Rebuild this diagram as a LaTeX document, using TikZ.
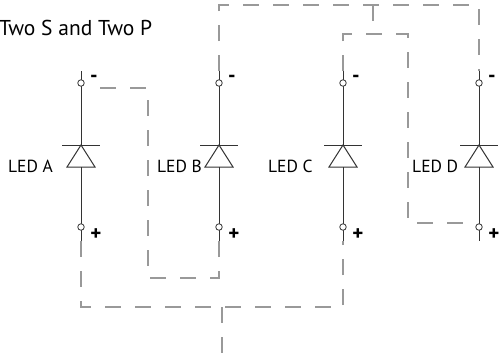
\documentclass[tikz,border=0pt]{standalone}
\usepackage{fontspec}
\setmainfont{PT Sans}
\usepackage{color}
\usepackage{tikz}

\begin{document}
\begin{tikzpicture}[x=1pt,y=-1pt,
  wire/.style={draw=black!80,line width=1pt},
  link/.style={draw=black!40,line width=1.4pt,dash pattern=on 16pt off 14pt},
  term/.style={circle,draw=black!80,fill=white,line width=0.8pt,inner sep=0pt,minimum size=6.5pt},
  sign/.style={inner sep=0pt,anchor=base,font=\fontsize{21}{24}\selectfont\bfseries},
  lbl/.style={inner sep=0pt,anchor=base west,font=\fontsize{17.5}{20}\selectfont}]
\useasboundingbox (0,0) rectangle (501,354);

\node[inner sep=0pt,anchor=base west,font=\fontsize{21.5}{24}\selectfont] (heading) at (-1,35) {Two S and Two P};

% LED A
\coordinate (aTop) at (81,71);
\coordinate (aBot) at (81,241);
\coordinate (aK) at (81,145);
\coordinate (aAn) at (81,167);
\draw[wire] (aTop) -- (aK) (aAn) -- (aBot);
\draw[wire] (aK) -- ++(-14,22) -- ++(28,0) -- cycle ;
\draw[wire] (aK) ++(-19,0) -- ++(38,0) ;
\node[term] (aMinus) at (81,83) {};
\node[term] (aPlus) at (81,227) {};
\node[sign] (aNeg) at (94,82) {-};
\node[sign] (aPos) at (96,240) {+};
\node[lbl] (aName) at (8,172) {LED A};

% LED B
\coordinate (bTop) at (219,71);
\coordinate (bBot) at (219,241);
\coordinate (bK) at (219,145);
\coordinate (bAn) at (219,167);
\draw[wire] (bTop) -- (bK) (bAn) -- (bBot);
\draw[wire] (bK) -- ++(-14,22) -- ++(28,0) -- cycle ;
\draw[wire] (bK) ++(-19,0) -- ++(38,0) ;
\node[term] (bMinus) at (219,83) {};
\node[term] (bPlus) at (219,227) {};
\node[sign] (bNeg) at (232,82) {-};
\node[sign] (bPos) at (234,240) {+};
\node[lbl] (bName) at (157,172) {LED B};

% LED C
\coordinate (cTop) at (343,71);
\coordinate (cBot) at (343,241);
\coordinate (cK) at (343,145);
\coordinate (cAn) at (343,167);
\draw[wire] (cTop) -- (cK) (cAn) -- (cBot);
\draw[wire] (cK) -- ++(-14,22) -- ++(28,0) -- cycle ;
\draw[wire] (cK) ++(-19,0) -- ++(38,0) ;
\node[term] (cMinus) at (343,83) {};
\node[term] (cPlus) at (343,227) {};
\node[sign] (cNeg) at (356,82) {-};
\node[sign] (cPos) at (358,240) {+};
\node[lbl] (cName) at (268,172) {LED C};

% LED D
\coordinate (dTop) at (479,71);
\coordinate (dBot) at (479,241);
\coordinate (dK) at (479,145);
\coordinate (dAn) at (479,167);
\draw[wire] (dTop) -- (dK) (dAn) -- (dBot);
\draw[wire] (dK) -- ++(-14,22) -- ++(28,0) -- cycle ;
\draw[wire] (dK) ++(-19,0) -- ++(38,0) ;
\node[term] (dMinus) at (479,83) {};
\node[term] (dPlus) at (479,227) {};
\node[sign] (dNeg) at (492,82) {-};
\node[sign] (dPos) at (494,240) {+};
\node[lbl] (dName) at (412,172) {LED D};

% links
\coordinate (aLink) at (100,88);
\coordinate (loopB) at (148,278);
\draw[link] (aLink) -| (loopB) -| (bBot);

\coordinate (join) at (222,307);
\coordinate (out) at (222,354);
\draw[link] (aBot) |- (join) -| (cBot);
\draw[link] (join) -- (out);

\coordinate (tap) at (373,5);
\coordinate (cdJoin) at (373,34);
\draw[link] (bTop) |- (tap) -| (dTop);
\draw[link] (tap) -- (cdJoin);

\coordinate (dLink) at (468,223);
\draw[link] (cTop) |- (cdJoin) -| (408,223) -- (dLink);
\end{tikzpicture}
\end{document}
